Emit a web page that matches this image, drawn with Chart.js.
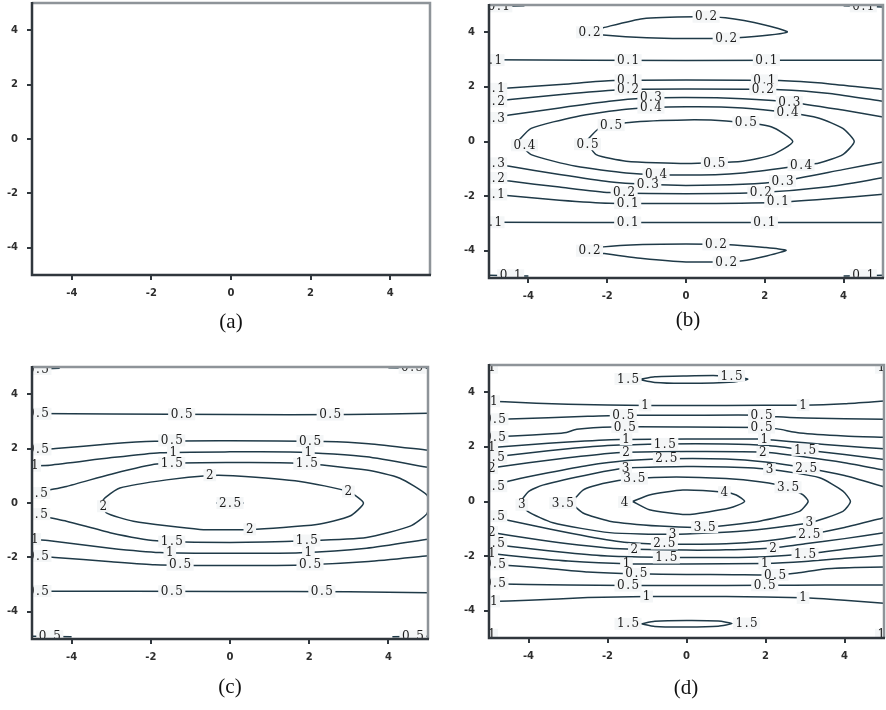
<!DOCTYPE html>
<html><head><meta charset="utf-8">
<script src="https://cdn.jsdelivr.net/npm/chart.js@4.4.1/dist/chart.umd.min.js"></script>
<style>
html,body{margin:0;padding:0;background:#fff;width:886px;height:710px;overflow:hidden;position:relative}
canvas{position:absolute}
.cap{position:absolute;font-family:"Liberation Serif","Times New Roman",serif;font-size:21px;color:#111;transform:translateX(-50%);line-height:1;white-space:nowrap}
</style></head><body>
<canvas id="ca"></canvas><canvas id="cb"></canvas><canvas id="cc"></canvas><canvas id="cd"></canvas>
<div class="cap" style="left:231px;top:311px">(a)</div>
<div class="cap" style="left:688px;top:309px">(b)</div>
<div class="cap" style="left:230px;top:676px">(c)</div>
<div class="cap" style="left:686px;top:677px">(d)</div>
<script>
// ---------- axes ----------
const xTicks = [-4, -2, 0, 2, 4];
const yTicks = [-4, -2, 0, 2, 4];

// ---------- panel (b) contour lines ----------
const b01TopFlat = [[-5,2.99],[0,2.97],[5,2.98]];
const b01Upper = [[-5,1.91],[-4.4,1.97],[-3.1,2.1],[-1.85,2.23],[0,2.25],[2.38,2.23],[3.65,2.11],[5,1.91]];
const b02Upper = [[-5,1.46],[-4.4,1.55],[-3.1,1.73],[-1.7,1.9],[0,1.92],[2.4,1.9],[3.65,1.76],[5,1.47]];
const b03Upper = [[-5,0.85],[-4.48,0.97],[-3.21,1.23],[-1.95,1.47],[-1.1,1.58],[0,1.61],[1.44,1.57],[2.62,1.45],[3.98,1.15],[5,0.9]];
const b04Loop = [[-4.27,0],[-3.93,0.48],[-2.79,0.91],[-1.52,1.18],[0,1.27],[1.44,1.23],[2.58,1.06],[3.38,0.85],[3.98,0.48],[4.27,0],[3.98,-0.48],[3.38,-0.79],[2.92,-0.88],[1.44,-1.15],[0,-1.23],[-1.52,-1.15],[-2.79,-0.91],[-3.93,-0.48],[-4.27,0]];
const b05Loop = [[-2.54,0],[-2.2,0.48],[-1.44,0.7],[0,0.79],[1.02,0.75],[2.16,0.54],[2.71,0],[2.2,-0.48],[1.44,-0.72],[0,-0.81],[-1.52,-0.72],[-2.28,-0.48],[-2.54,0]];
const b03Lower = [[-5,-0.79],[-4.48,-0.91],[-3.21,-1.21],[-1.95,-1.47],[-0.97,-1.57],[0,-1.61],[1.44,-1.57],[2.45,-1.45],[3.98,-1.03],[5,-0.75]];
const b02Lower = [[-5,-1.33],[-4.48,-1.45],[-3.21,-1.67],[-1.95,-1.87],[0,-1.91],[1.9,-1.87],[3.55,-1.67],[5,-1.33]];
const b01Lower = [[-5,-1.93],[-4.48,-1.99],[-3.21,-2.15],[-1.95,-2.26],[0,-2.27],[2.28,-2.23],[3.55,-2.11],[5,-1.93]];
const b01BotFlat = [[-5,-2.96],[0,-2.97],[5,-2.97]];
const b02TopLoop = [[-2.55,4.0],[-2.1,4.17],[-1.1,4.5],[0.25,4.57],[1.0,4.53],[2.0,4.27],[2.57,4.01],[1.5,3.82],[0.6,3.77],[-1.0,3.8],[-2.1,3.9],[-2.55,4.0]];
const b02BotLoop = [[-2.55,-4.0],[-2.1,-3.86],[-1.1,-3.77],[0,-3.75],[1.0,-3.77],[2.0,-3.88],[2.54,-3.99],[1.44,-4.37],[0,-4.41],[-1.1,-4.29],[-2.1,-4.1],[-2.55,-4.0]];
const b01CornerTL = [[-5,4.93],[-4.1,4.97]];
const b01CornerTR = [[4.0,4.97],[5,4.93]];
const b01CornerBL = [[-5,-4.9],[-4.0,-4.93]];
const b01CornerBR = [[4.0,-4.93],[5,-4.9]];
const bLabels = [
 [-4.95,2.98,'0.1'],[-1.47,2.98,'0.1'],[2.04,2.98,'0.1'],
 [-4.88,1.93,'0.1'],[-1.47,2.24,'0.1'],[1.99,2.24,'0.1'],
 [-4.88,1.47,'0.2'],[-1.47,1.91,'0.2'],[1.95,1.91,'0.2'],
 [-4.88,0.86,'0.3'],[-0.89,1.61,'0.3'],[2.62,1.45,'0.3'],
 [-0.89,1.24,'0.4'],[2.58,1.06,'0.4'],[-4.1,-0.14,'0.4'],[2.92,-0.86,'0.4'],[-0.76,-1.21,'0.4'],
 [-1.9,0.6,'0.5'],[1.52,0.7,'0.5'],[-2.5,-0.1,'0.5'],[0.72,-0.79,'0.5'],
 [-4.88,-0.8,'0.3'],[-0.97,-1.57,'0.3'],[2.45,-1.45,'0.3'],
 [-4.88,-1.34,'0.2'],[-1.57,-1.87,'0.2'],[1.9,-1.87,'0.2'],
 [-4.88,-1.94,'0.1'],[-1.48,-2.26,'0.1'],[2.33,-2.2,'0.1'],
 [-4.95,-2.96,'0.1'],[-1.48,-2.97,'0.1'],[1.99,-2.97,'0.1'],
 [-2.45,4.0,'0.2'],[0.51,4.57,'0.2'],[1.02,3.77,'0.2'],
 [-2.45,-4.0,'0.2'],[0.76,-3.77,'0.2'],[1.02,-4.43,'0.2'],
 [-4.75,4.95,'0.1'],[4.5,4.95,'0.1'],[-4.45,-4.9,'0.1'],[4.5,-4.9,'0.1']
];

// ---------- panel (c) contour lines ----------
const c05TopFlat = [[-5,3.29],[-3,3.27],[0,3.25],[3,3.25],[5,3.3]];
const c05Upper = [[-5,1.95],[-4.4,2.0],[-3,2.18],[-1.9,2.27],[0,2.29],[2.4,2.26],[3.5,2.18],[5,1.94]];
const c10Upper = [[-5,1.37],[-4.55,1.39],[-3.03,1.66],[-1.77,1.85],[0,1.88],[1.77,1.87],[3.45,1.7],[5,1.31]];
const c15Loop = [[-5,0.36],[-4.13,0.61],[-3.03,1.05],[-1.85,1.43],[0,1.49],[1.77,1.46],[3.45,1.21],[4.29,0.91],[4.97,0.3],[5.02,0],[4.97,-0.4],[4.55,-0.85],[3.45,-1.27],[1.94,-1.39],[0,-1.45],[-1.85,-1.39],[-3.03,-1.09],[-4.13,-0.67],[-5,-0.42]];
const c20Loop = [[-3.25,0.02],[-3.15,0.2],[-2.78,0.55],[-1.6,0.85],[-0.51,1.01],[0.08,1.0],[1.77,0.79],[2.99,0.42],[3.37,0],[3.03,-0.48],[2.19,-0.79],[0.5,-0.97],[-0.76,-0.97],[-2.44,-0.67],[-3.12,-0.36],[-3.25,0.02]];
const c25Mark = [[-0.35,0],[0.35,0]];
const c10Lower = [[-5,-1.33],[-4.55,-1.39],[-3.03,-1.66],[-1.77,-1.82],[0,-1.85],[1.77,-1.83],[3.45,-1.66],[5,-1.33]];
const c05Lower = [[-5,-1.94],[-4.42,-2.0],[-3,-2.16],[-1.9,-2.27],[0,-2.3],[1.77,-2.28],[3.5,-2.15],[5,-1.94]];
const c05BotFlat = [[-5,-3.24],[0,-3.25],[3,-3.26],[5,-3.3]];
const c05CornerTL = [[-5,4.93],[-4.3,4.95]];
const c05CornerTR = [[4.0,4.97],[5,4.95]];
const c05CornerBL = [[-5,-4.9],[-4.0,-4.92]];
const c05CornerBR = [[4.1,-4.92],[5,-4.9]];
const cLabels = [
 [-4.85,3.28,'0.5'],[-1.22,3.26,'0.5'],[2.53,3.25,'0.5'],
 [-4.85,1.97,'0.5'],[-1.47,2.3,'0.5'],[2.02,2.28,'0.5'],
 [-4.93,1.37,'1'],[-1.43,1.87,'1'],[1.98,1.87,'1'],
 [-4.88,0.37,'1.5'],[-1.47,1.47,'1.5'],[1.94,1.44,'1.5'],
 [-0.51,1.02,'2'],[2.99,0.42,'2'],[-3.2,-0.12,'2'],[0.5,-0.97,'2'],
 [0,0,'2.5'],
 [-4.88,-0.41,'1.5'],[-1.47,-1.42,'1.5'],[1.94,-1.38,'1.5'],
 [-4.93,-1.33,'1'],[-1.52,-1.82,'1'],[1.98,-1.8,'1'],
 [-4.85,-1.95,'0.5'],[-1.26,-2.27,'0.5'],[2.02,-2.26,'0.5'],
 [-4.85,-3.24,'0.5'],[-1.47,-3.25,'0.5'],[2.32,-3.26,'0.5'],
 [-4.85,4.93,'0.5'],[4.6,4.97,'0.5'],[-4.55,-4.9,'0.5'],[4.62,-4.9,'0.5']
];

// ---------- panel (d) contour lines ----------
const d15TopLoop = [[-1.2,4.47],[-0.8,4.57],[0,4.6],[0.8,4.61],[1.3,4.57],[1.55,4.48],[1.2,4.38],[0,4.33],[-0.8,4.36],[-1.2,4.47]];
const d10Top = [[-5,3.67],[-4.6,3.65],[-3,3.56],[-1,3.52],[1,3.52],[2.95,3.53],[4,3.58],[5,3.68]];
const d05Top = [[-5,3.01],[-4.5,3.02],[-2.5,3.12],[-1.6,3.16],[0,3.16],[1.9,3.16],[2.3,3.1],[3,3.06],[5,3.01]];
const d05Upper2 = [[-5,2.36],[-4.4,2.4],[-3.4,2.48],[-3.04,2.53],[-2.78,2.65],[-1.86,2.73],[0,2.73],[1.9,2.71],[2.3,2.66],[2.87,2.51],[4,2.4],[5,2.35]];
const d10Upper = [[-5,1.97],[-4,2.08],[-3,2.18],[-1.69,2.27],[0,2.29],[1.97,2.29],[2.19,2.25],[3,2.15],[4,2.03],[5,1.93]];
const d15Upper = [[-5,1.6],[-4,1.78],[-3,1.93],[-2,2.05],[-0.55,2.11],[1,2.11],[2,2.06],[3,1.89],[4,1.72],[5,1.54]];
const d20Upper = [[-5,1.22],[-4,1.42],[-3,1.6],[-2,1.76],[-1.53,1.8],[0,1.83],[1.93,1.81],[3,1.63],[4,1.42],[5,1.15]];
const d25Upper = [[-5,0.56],[-4.4,0.78],[-3.5,1.05],[-2.5,1.32],[-1.5,1.5],[-0.51,1.57],[1,1.56],[2,1.45],[3.03,1.23],[4,0.95],[5,0.54]];
const d30Loop = [[-4.2,0],[-4.0,0.36],[-3.64,0.6],[-2.37,1.02],[-1.54,1.22],[0,1.28],[1,1.26],[2.1,1.18],[3.37,0.87],[3.96,0.38],[4.15,0],[3.96,-0.36],[3.11,-0.78],[1.43,-1.08],[-0.35,-1.2],[-1.95,-1.14],[-3.38,-0.78],[-4.02,-0.36],[-4.2,0]];
const d35Loop = [[-2.92,-0.06],[-2.62,0.42],[-2.12,0.66],[-1.32,0.84],[-0.26,0.9],[1.0,0.84],[1.85,0.72],[2.57,0.52],[2.95,0.24],[3.08,0],[2.86,-0.36],[1.85,-0.72],[0.46,-0.94],[-0.68,-0.9],[-1.95,-0.72],[-2.62,-0.42],[-2.92,-0.06]];
const d40Loop = [[-1.36,0],[-0.94,0.24],[-0.09,0.42],[0.96,0.34],[1.26,0.24],[1.47,0],[1.09,-0.24],[0,-0.48],[-0.94,-0.3],[-1.36,0]];
const d25Lower = [[-5,-0.54],[-4.4,-0.72],[-3.5,-1.0],[-2.5,-1.28],[-1.5,-1.5],[-0.56,-1.56],[1,-1.55],[2,-1.45],[3.05,-1.22],[4,-0.95],[5,-0.59]];
const d20Lower = [[-5,-1.12],[-4,-1.35],[-3,-1.55],[-2,-1.7],[-1.32,-1.75],[0,-1.78],[1,-1.77],[2.19,-1.7],[3,-1.55],[4,-1.36],[5,-1.14]];
const d15Lower = [[-5,-1.55],[-4,-1.72],[-3,-1.88],[-2,-2.0],[-0.51,-2.05],[1,-2.05],[2,-2.02],[3,-1.92],[4,-1.75],[5,-1.57]];
const d10Lower = [[-5,-1.9],[-4,-2.05],[-3,-2.18],[-1.52,-2.28],[0,-2.29],[1.98,-2.27],[3,-2.2],[4,-2.08],[5,-1.98]];
const d05Lower1 = [[-5,-2.3],[-4.4,-2.35],[-3.5,-2.45],[-2.5,-2.58],[-1.27,-2.65],[0,-2.67],[1.2,-2.68],[2.24,-2.69],[2.8,-2.62],[3.5,-2.47],[4.3,-2.42],[5,-2.4]];
const d05Lower2 = [[-5,-3.01],[-3,-3.06],[-1.48,-3.08],[0,-3.08],[1.98,-3.07],[3.5,-3.06],[5,-3.06]];
const d10Bottom = [[-5,-3.66],[-4,-3.62],[-2.5,-3.52],[-1,-3.48],[1,-3.48],[2.95,-3.53],[4,-3.62],[5,-3.73]];
const d15BotLoop = [[-1.15,-4.48],[-0.8,-4.39],[0,-4.36],[0.8,-4.38],[1.15,-4.47],[0.8,-4.57],[0,-4.6],[-0.8,-4.58],[-1.15,-4.48]];
const dLabels = [
 [-1.48,4.49,'1.5'],[1.14,4.6,'1.5'],
 [-4.88,3.67,'1'],[-1.05,3.52,'1'],[2.95,3.53,'1'],
 [-4.85,3.01,'0.5'],[-1.6,3.16,'0.5'],[1.9,3.16,'0.5'],
 [-4.85,2.36,'0.5'],[-1.56,2.73,'0.5'],[1.9,2.71,'0.5'],
 [-4.93,1.97,'1'],[-1.53,2.28,'1'],[1.97,2.29,'1'],
 [-4.88,1.6,'1.5'],[-0.55,2.11,'1.5'],[3.0,1.89,'1.5'],
 [-4.93,1.22,'2'],[-1.53,1.8,'2'],[1.93,1.81,'2'],
 [-4.88,0.56,'2.5'],[-0.51,1.57,'2.5'],[3.03,1.23,'2.5'],
 [-4.17,-0.12,'3'],[-1.54,1.23,'3'],[2.1,1.18,'3'],[3.11,-0.78,'3'],[-0.35,-1.2,'3'],
 [-3.13,-0.06,'3.5'],[-1.32,0.84,'3.5'],[2.57,0.52,'3.5'],[0.46,-0.94,'3.5'],
 [-1.57,-0.02,'4'],[0.96,0.34,'4'],
 [-4.88,-0.54,'2.5'],[-0.56,-1.54,'2.5'],[3.11,-1.2,'2.5'],
 [-4.93,-1.12,'2'],[-1.32,-1.75,'2'],[2.19,-1.7,'2'],
 [-4.88,-1.55,'1.5'],[-0.51,-2.05,'1.5'],[3.0,-1.92,'1.5'],
 [-4.93,-1.9,'1'],[-1.52,-2.28,'1'],[1.98,-2.27,'1'],
 [-4.85,-2.3,'0.5'],[-1.27,-2.65,'0.5'],[2.24,-2.69,'0.5'],
 [-4.85,-3.01,'0.5'],[-1.48,-3.08,'0.5'],[1.98,-3.07,'0.5'],
 [-4.88,-3.66,'1'],[-1.01,-3.48,'1'],[2.95,-3.53,'1'],
 [-1.48,-4.48,'1.5'],[1.52,-4.47,'1.5'],
 [-4.93,4.9,'1'],[4.93,4.9,'1'],[-4.93,-4.88,'1'],[4.93,-4.88,'1']
];

// ---------- styles ----------
const LINE = '#1f3a48';
const AXIS_DARK = '#30373d';
const AXIS_LIGHT = '#8e9499';
const LABEL_FONT = '12px "DejaVu Serif", serif';
const LABEL_SP = 1.5;
const PADL = 45, PADT = 12, PADR = 12, PADB = 36;

const labelPlugin = {
  id: 'contourLabels',
  afterDatasetsDraw(chart, args, opts) {
    const {ctx, chartArea: a, scales: {x, y}} = chart;
    ctx.save();
    ctx.beginPath(); ctx.rect(a.left, a.top, a.right - a.left, a.bottom - a.top); ctx.clip();
    ctx.font = LABEL_FONT; ctx.textBaseline = 'middle'; ctx.textAlign = 'left';
    for (const [vx, vy, t] of (opts.labels || [])) {
      const px = x.getPixelForValue(vx), py = y.getPixelForValue(vy);
      const chars = [...t];
      const ws = chars.map(c => ctx.measureText(c).width);
      const w = ws.reduce((s, v) => s + v, 0) + LABEL_SP * (chars.length - 1);
      ctx.fillStyle = '#f4f6f7';
      ctx.fillRect(px - w / 2 - 2.5, py - 6, w + 5, 12);
      ctx.fillStyle = '#1c1c1c';
      let cx = px - w / 2;
      chars.forEach((c, i) => { ctx.fillText(c, cx, py + 0.5); cx += ws[i] + LABEL_SP; });
    }
    ctx.restore();
    // frame
    ctx.save();
    ctx.lineWidth = 2.5;
    ctx.strokeStyle = AXIS_LIGHT;
    ctx.beginPath(); ctx.moveTo(a.left, a.top); ctx.lineTo(a.right, a.top); ctx.lineTo(a.right, a.bottom); ctx.stroke();
    ctx.strokeStyle = AXIS_DARK;
    ctx.beginPath(); ctx.moveTo(a.left, a.top - 1); ctx.lineTo(a.left, a.bottom); ctx.lineTo(a.right + 1, a.bottom); ctx.stroke();
    ctx.restore();
  }
};

function axisCfg(ticks, isX) {
  return {
    type: 'linear', min: -5, max: 5,
    afterBuildTicks: s => { s.ticks = ticks.map(v => ({value: v})); },
    afterFit: s => { if (isX) s.height = PADB; else s.width = PADL; },
    grid: {drawOnChartArea: false, drawTicks: true, tickLength: 5, color: AXIS_DARK, lineWidth: 2},
    border: {display: false},
    ticks: {font: {family: '"DejaVu Sans", sans-serif', size: 10, weight: 'bold'}, color: '#2e2e2e',
            padding: isX ? 7 : 9, maxRotation: 0, autoSkip: false, callback: v => String(v)}
  };
}

function makePanel(id, area, lines, labels) {
  const [l, t, r, b] = area;
  const cv = document.getElementById(id);
  const W = r - l + PADL + PADR, H = b - t + PADT + PADB;
  cv.width = W; cv.height = H;
  cv.style.width = W + 'px'; cv.style.height = H + 'px';
  cv.style.left = (l - PADL) + 'px'; cv.style.top = (t - PADT) + 'px';
  new Chart(cv, {
    type: 'scatter',
    data: {datasets: lines.map(pts => ({
      data: pts.map(([x, y]) => ({x, y})), showLine: true, pointRadius: 0,
      borderColor: LINE, borderWidth: 1.5, tension: 0.2, clip: 0, fill: false
    }))},
    options: {
      responsive: false, animation: false, devicePixelRatio: 1, events: [],
      layout: {padding: {left: 0, top: PADT, right: PADR, bottom: 0}},
      plugins: {legend: {display: false}, tooltip: {enabled: false}, contourLabels: {labels}},
      scales: {x: axisCfg(xTicks, true), y: axisCfg(yTicks, false)}
    },
    plugins: [labelPlugin]
  });
}

makePanel('ca', [32, 0, 430, 275], [], []);
makePanel('cb', [489, 2, 883, 278],
  [b01TopFlat, b01Upper, b02Upper, b03Upper, b04Loop, b05Loop, b03Lower, b02Lower, b01Lower, b01BotFlat,
   b02TopLoop, b02BotLoop, b01CornerTL, b01CornerTR, b01CornerBL, b01CornerBR], bLabels);
makePanel('cc', [32, 364, 428, 639],
  [c05TopFlat, c05Upper, c10Upper, c15Loop, c20Loop, c25Mark, c10Lower, c05Lower, c05BotFlat,
   c05CornerTL, c05CornerTR, c05CornerBL, c05CornerBR], cLabels);
makePanel('cd', [489, 362, 884, 638],
  [d15TopLoop, d10Top, d05Top, d05Upper2, d10Upper, d15Upper, d20Upper, d25Upper, d30Loop, d35Loop, d40Loop,
   d25Lower, d20Lower, d15Lower, d10Lower, d05Lower1, d05Lower2, d10Bottom, d15BotLoop], dLabels);
</script>
</body></html>
